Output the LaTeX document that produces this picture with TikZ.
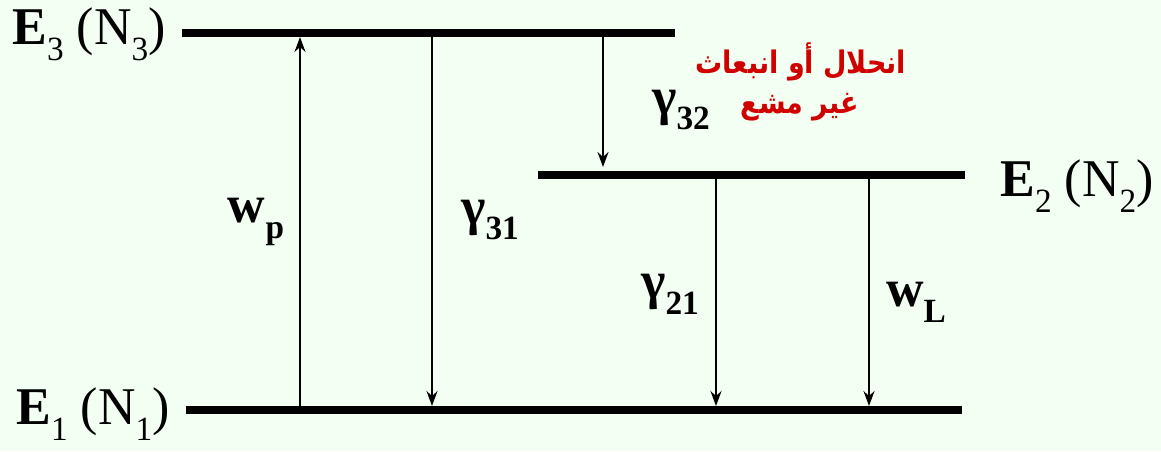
\documentclass[tikz,border=0pt]{standalone}
\usepackage{graphicx}
\usepackage{fontspec}
\setmainfont{Liberation Serif}
\newfontfamily\arabicfont[Script=Arabic]{DejaVu Sans}
\TeXXeTstate=1
\usetikzlibrary{arrows.meta}
\definecolor{bg}{HTML}{F2FFF2}
\definecolor{arred}{HTML}{D00000}
\newcommand{\vst}[1]{\scalebox{1}[1.02]{#1}}
\newcommand{\sbs}[1]{\raisebox{-0.3em}{\scalebox{0.64}{#1}}}
\begin{document}
\begin{tikzpicture}[x=1pt,y=-1pt,
  level/.style={line width=8pt},
  trans/.style={line width=1.8pt,-{Stealth[length=15pt,width=11pt,inset=5pt]}},
  lbl/.style={inner sep=0pt,font=\fontsize{52}{56}\selectfont},
  arab/.style={inner sep=0pt,text=arred,font=\fontsize{27}{32}\selectfont\arabicfont\bfseries}]
\fill[bg] (0,0) rectangle (1161,451);
\useasboundingbox (0,0) rectangle (1161,451);
% levels
\coordinate (e3l) at (182,33);  \coordinate (e3r) at (675,33);
\coordinate (e2l) at (538,175); \coordinate (e2r) at (965,175);
\coordinate (e1l) at (186,410); \coordinate (e1r) at (962,410);
\draw[level] (e3l) -- (e3r);
\draw[level] (e2l) -- (e2r);
\draw[level] (e1l) -- (e1r);
% arrow end points
\coordinate (wpA) at (300,406); \coordinate (wpB) at (300,37);
\coordinate (g31A) at (432,37); \coordinate (g31B) at (432,406);
\coordinate (g32A) at (603,37); \coordinate (g32B) at (603,167);
\coordinate (g21A) at (716,179); \coordinate (g21B) at (716,406);
\coordinate (wLA) at (869,179); \coordinate (wLB) at (869,406);
\draw[trans] (wpA) -- (wpB);
\draw[trans] (g31A) -- (g31B);
\draw[trans] (g32A) -- (g32B);
\draw[trans] (g21A) -- (g21B);
\draw[trans] (wLA) -- (wLB);
% level labels
\node[lbl] (E3) at (89,34) {\vst{\textbf{E}\sbs{3} (N\sbs{3})}};
\node[lbl] (E2) at (1077,186) {\vst{\textbf{E}\sbs{2} (N\sbs{2})}};
\node[lbl] (E1) at (93,414) {\vst{\textbf{E}\sbs{1} (N\sbs{1})}};
% transition labels
\node[lbl] (lwp) at (256,222) {\vst{\textbf{w}\sbs{\textbf{p}}}};
\node[lbl] (l31) at (490,220) {\vst{\textbf{γ}\sbs{\textbf{31}}}};
\node[lbl] (l32) at (681,110) {\vst{\textbf{γ}\sbs{\textbf{32}}}};
\node[lbl] (l21) at (670,294) {\vst{\textbf{γ}\sbs{\textbf{21}}}};
\node[lbl] (lwL) at (916,302) {\vst{\textbf{w}\sbs{\textbf{L}}}};
% Arabic note
\node[arab] (ar1) at (801,62) {\scalebox{1}[1.15]{\beginR انحلال أو انبعاث\endR}};
\node[arab] (ar2) at (800,107) {\scalebox{1}[1.15]{\beginR غير مشع\endR}};
\end{tikzpicture}
\end{document}
